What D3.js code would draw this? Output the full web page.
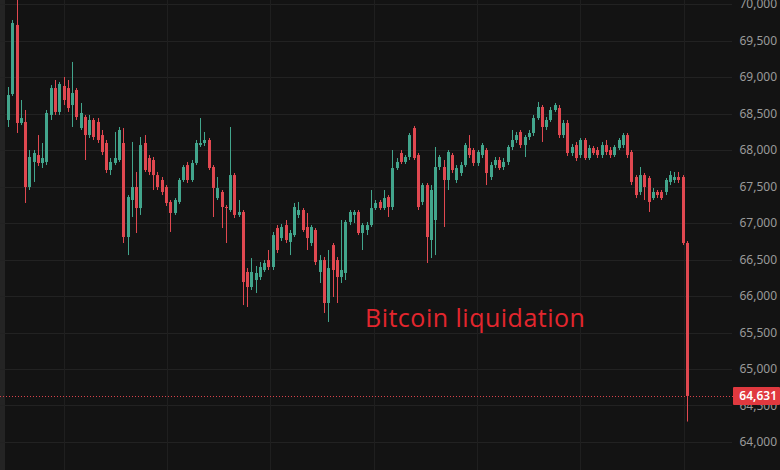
<!DOCTYPE html>
<html><head><meta charset="utf-8">
<script src="https://cdn.jsdelivr.net/npm/d3@7"></script>
<style>html,body{margin:0;padding:0;background:#131313;overflow:hidden}</style>
</head><body>
<svg id="c" width="780" height="470"></svg>
<script>
const open = [68411,68767,69713,68370,68384,67493,67836,67931,67822,67836,68480,68849,68521,68877,68849,68616,68822,68301,68452,68205,68411,68384,68205,68096,67726,67822,67863,68096,66808,67315,67493,67205,68096,67890,67863,67657,67589,67493,67288,67137,67288,67589,67794,67589,67822,68068,68096,68137,67767,67342,67425,67219,67178,67657,67110,67151,66329,66123,66219,66260,66356,66493,66397,66931,66794,66972,66740,66835,67110,67178,66945,66726,66904,66329,66493,65904,66698,66493,66260,66315,67014,67110,67151,66863,66904,66972,67205,67288,67205,67356,67219,67753,67959,67836,67904,68301,67931,67288,67520,66767,67041,67767,67767,67589,67931,67589,67685,67794,68027,68000,67822,67931,68000,67630,67794,67863,67767,67836,68041,68137,68247,68068,68178,68233,68438,68589,68315,68411,68548,68575,68205,68370,67959,68068,67931,68137,67890,68027,68000,67931,68068,68000,67931,68027,68068,68205,67973,67630,67425,67657,67616,67342,67425,67425,67425,67562,67589,67630,67630,66726];
const close = [68753,69740,68370,68438,67493,67904,67959,67822,67890,68507,68849,68521,68904,68685,68575,68781,68452,68507,68205,68411,68178,68137,67973,67726,67836,67890,68274,66808,67356,67493,67205,68068,67726,67699,67657,67493,67425,67274,67137,67315,67589,67767,67589,67822,68096,68096,68137,67753,67479,67479,67219,67205,67657,67110,67151,66192,66123,66329,66315,66397,66452,66397,66835,66630,66945,66767,66863,67219,67178,66904,66794,66945,66466,66493,65904,66383,66356,66260,66356,67014,67151,67151,66863,66972,66972,67205,67274,67205,67342,67219,67753,67836,67836,67904,68205,67890,67219,67520,66808,67452,67767,67904,67589,67973,67726,67753,67794,68068,67931,67822,67973,68068,67685,67794,67863,67753,67836,68041,68137,68205,68068,68178,68233,68438,68589,68315,68411,68548,68616,68205,68370,67959,68041,67890,68137,67890,68027,67959,67931,68068,67973,67931,68041,68137,68205,67931,67562,67383,67657,67493,67288,67425,67383,67342,67589,67657,67630,67589,66726,64631];
const high = [68863,69781,70080,68685,68548,68000,68000,68205,68096,68548,68890,68959,68932,69000,68959,69206,68849,68644,68480,68480,68438,68438,68274,68137,67890,68247,68315,68301,67383,68110,67699,68178,68205,67931,67904,67699,67630,67520,67315,67342,67616,67794,67836,67863,68137,68438,68247,68164,67794,67630,67452,67246,68315,67685,67315,67178,66383,66520,66411,66466,66493,66630,66877,66972,66986,67041,66904,67274,67288,67205,67137,66972,66931,66561,66534,66630,66726,66534,67041,67041,67178,67178,67178,67000,67014,67452,67315,67315,67452,67383,68000,67890,68000,67931,68233,68329,67959,67548,67548,67520,68041,67931,67863,68000,67959,67794,67836,68096,68205,68027,68000,68096,68027,67836,67904,67904,67890,68068,68274,68247,68274,68205,68274,68480,68658,68616,68452,68589,68644,68616,68411,68411,68082,68110,68164,68164,68068,68055,68041,68110,68137,68041,68068,68164,68233,68233,68000,67657,67767,67685,67644,67479,67452,67452,67616,67712,67699,67699,67657,66753];
const low = [68315,68740,68233,68342,67274,67452,67562,67781,67753,67794,68411,68480,68480,68616,68521,68315,68411,68274,67863,68164,68137,68096,67931,67685,67657,67794,67836,66726,66561,67082,66863,67110,67699,67657,67452,67452,67383,67233,66877,67110,67260,67562,67548,67562,67794,68041,68055,67726,67082,67315,66931,66726,67151,67068,67082,65876,65849,66082,66041,66219,66329,66356,66356,66589,66753,66726,66561,66808,67068,66877,66630,66685,66424,66178,65767,65644,65986,65904,66178,66219,66972,67000,66835,66630,66835,66945,67178,67178,67178,67082,67178,67726,67808,67808,67863,67863,67178,67246,66452,66520,66561,67726,66945,67452,67685,67548,67644,67767,67890,67781,67781,67890,67520,67589,67753,67726,67726,67794,68000,68096,68027,67904,68137,68192,68411,68110,68274,68384,68521,68164,68164,67918,67918,67849,67890,67863,67863,67931,67890,67890,67931,67890,67904,68000,68027,67890,67520,67342,67383,67315,67151,67315,67342,67315,67383,67520,67548,67548,66698,64280];
const yTicks = [64000,64500,65000,65500,66000,66500,67000,67500,68000,68500,69000,69500,70000];
const vGrid = [13.1,37.25,61.4,85.6,109.8,134,158.2];
const lastPrice = 64631;
const annotation = "Bitcoin liquidation";

const W = 780, H = 470;
const svg = d3.select("#c");
svg.append("rect").attr("width",W).attr("height",H).attr("fill","#131313");
svg.append("rect").attr("x",0).attr("y",0).attr("width",5).attr("height",H).attr("fill","#242424");

const y = d3.scaleLinear().domain([64000,70000]).range([442,4]);
const x = d3.scaleLinear().domain([0, open.length-1]).range([8,687]);
const plotRight = 732;

const grid = svg.append("g");
grid.selectAll("line.h").data(yTicks).join("line")
  .attr("x1",0).attr("x2",plotRight)
  .attr("y1",d=>Math.round(y(d))+0.5).attr("y2",d=>Math.round(y(d))+0.5)
  .attr("stroke","#222222").attr("stroke-width",1);
grid.selectAll("line.v").data(vGrid).join("line")
  .attr("x1",d=>Math.round(x(d))+0.5).attr("x2",d=>Math.round(x(d))+0.5)
  .attr("y1",0).attr("y2",H)
  .attr("stroke","#1f1f1f").attr("stroke-width",1);

const up = "#42a58c", down = "#e04850";
const data = open.map((o,i)=>({i,o,c:close[i],h:high[i],l:low[i]}));
const g = svg.append("g");
g.selectAll("line.w").data(data).join("line")
  .attr("x1",d=>Math.round(x(d.i))+0.5).attr("x2",d=>Math.round(x(d.i))+0.5)
  .attr("y1",d=>y(d.h)).attr("y2",d=>y(d.l))
  .attr("stroke",d=>d.c>=d.o?up:down).attr("stroke-width",1);
g.selectAll("rect.b").data(data).join("rect")
  .attr("x",d=>Math.round(x(d.i))-1).attr("width",3)
  .attr("y",d=>y(Math.max(d.o,d.c)))
  .attr("height",d=>Math.max(1,Math.abs(y(d.o)-y(d.c))))
  .attr("fill",d=>d.c>=d.o?up:down);

// last price dotted line
svg.append("line").attr("x1",0).attr("x2",733)
  .attr("y1",Math.round(y(lastPrice))+0.5).attr("y2",Math.round(y(lastPrice))+0.5)
  .attr("stroke","#d8424a").attr("stroke-width",1).attr("stroke-dasharray","1,2");

// y axis
const axis = d3.axisRight(y).tickValues(yTicks).tickSize(0).tickFormat(d3.format(","));
const ag = svg.append("g").attr("transform","translate(777,0)").call(axis);
ag.select(".domain").remove();
ag.selectAll("text").attr("x",0).attr("text-anchor","end")
  .attr("fill","#9a9a9a").style("font-family","'Noto Sans', sans-serif").style("font-size","12px");

// price label
const py = y(lastPrice);
svg.append("rect").attr("x",733).attr("y",py-9).attr("width",47).attr("height",18).attr("fill","#e0393f").attr("rx",1);
svg.append("text").attr("x",777).attr("y",py).attr("dy","0.35em").attr("text-anchor","end")
  .attr("fill","#ffffff").style("font-family","'Noto Sans', sans-serif").style("font-size","12px").style("font-weight","600")
  .text(d3.format(",")(lastPrice));

// annotation
svg.append("text").attr("x",365).attr("y",327).attr("fill","#e3262e")
  .style("font-family","'Open Sans', sans-serif").style("font-size","25px")
  .style("letter-spacing","0.5px")
  .text(annotation);
</script>
</body></html>
